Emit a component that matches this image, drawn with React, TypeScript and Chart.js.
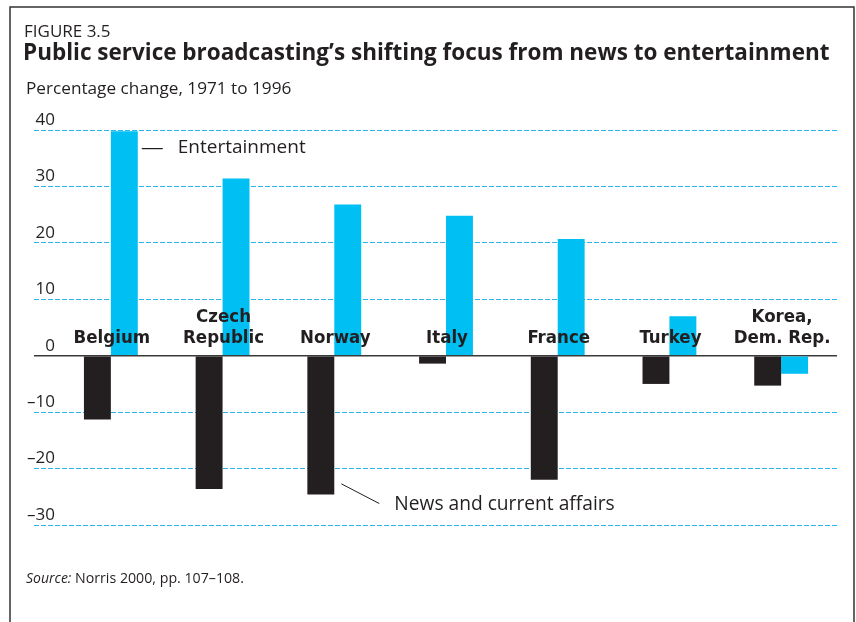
import { useEffect, useRef } from 'react';
import { Chart, registerables } from 'chart.js';

Chart.register(...registerables);

const countries: string[][] = [
  ['Belgium'],
  ['Czech', 'Republic'],
  ['Norway'],
  ['Italy'],
  ['France'],
  ['Turkey'],
  ['Korea,', 'Dem. Rep.'],
];
const newsValues = [-11.3, -23.6, -24.6, -1.4, -22.0, -5.0, -5.3];
const entertainmentValues = [39.8, 31.4, 26.8, 24.8, 20.7, 7.0, -3.2];
const yTickValues = [-30, -20, -10, 0, 10, 20, 30, 40];

const figureLabel = 'FIGURE 3.5';
const titleText = 'Public service broadcasting\u2019s shifting focus from news to entertainment';
const subtitleText = 'Percentage change, 1971 to 1996';
const sourceLabel = 'Source:';
const sourceText = ' Norris 2000, pp. 107\u2013108.';
const entLabel = 'Entertainment';
const newsLabel = 'News and current affairs';

const TEXT = '#231f20';
const BLACK_BAR = '#231f20';
const BLUE_BAR = '#00bff3';
const GRID_BLUE = '#29b6ee';
const ZERO_LINE = '#3a3a3a';
const SANS = '"Open Sans", "Noto Sans", sans-serif';
const COND = '"Liberation Sans Narrow", "DejaVu Sans Condensed", "Open Sans", sans-serif';

const isZero = (c: any) => !!(c.tick && c.tick.value === 0);

const decorPlugin = {
  id: 'decor',
  afterDatasetsDraw(chart: any) {
    const ctx = chart.ctx as CanvasRenderingContext2D;
    const xs = chart.scales.x;
    const ys = chart.scales.y;
    const zeroY = ys.getPixelForValue(0);
    ctx.save();
    ctx.fillStyle = TEXT;
    ctx.font = `bold 18.5px ${COND}`;
    ctx.textAlign = 'center';
    ctx.textBaseline = 'alphabetic';
    countries.forEach((lines, i) => {
      const x = xs.getPixelForValue(i) + 1;
      const n = lines.length;
      lines.forEach((ln, j) => {
        const y = zeroY - 13 - (n - 1 - j) * 21;
        ctx.fillText(ln, x, y);
      });
    });

    // annotations
    const entBar = chart.getDatasetMeta(1).data[0];
    const newsBar = chart.getDatasetMeta(0).data[2];
    ctx.strokeStyle = TEXT;
    ctx.lineWidth = 1.2;
    const ey = ys.getPixelForValue(36.7);
    const ex = entBar.x + entBar.width / 2 + 4;
    ctx.beginPath();
    ctx.moveTo(ex, ey);
    ctx.lineTo(ex + 21, ey);
    ctx.stroke();
    ctx.font = `19px ${SANS}`;
    ctx.textAlign = 'left';
    ctx.textBaseline = 'middle';
    ctx.fillText(entLabel, ex + 36, ey - 1);

    const nx = newsBar.x + newsBar.width / 2 + 7;
    const ny1 = ys.getPixelForValue(-22.7);
    const ny2 = ys.getPixelForValue(-26.2);
    ctx.lineWidth = 1;
    ctx.beginPath();
    ctx.moveTo(nx, ny1);
    ctx.lineTo(nx + 38, ny2);
    ctx.stroke();
    ctx.font = `19.2px ${SANS}`;
    ctx.fillText(newsLabel, nx + 53, ys.getPixelForValue(-26.4));
    ctx.restore();
  },
  afterDraw(chart: any) {
    const ctx = chart.ctx as CanvasRenderingContext2D;
    ctx.save();
    // frame
    ctx.strokeStyle = '#333333';
    ctx.lineWidth = 1.5;
    ctx.beginPath();
    ctx.moveTo(10, 622);
    ctx.lineTo(10, 7);
    ctx.lineTo(854, 7);
    ctx.lineTo(854, 622);
    ctx.stroke();

    ctx.fillStyle = TEXT;
    ctx.textAlign = 'left';
    ctx.textBaseline = 'alphabetic';
    ctx.font = `17px ${SANS}`;
    ctx.fillText(figureLabel, 24, 37);
    ctx.font = `bold 22.5px ${SANS}`;
    ctx.fillText(titleText, 23, 60);
    ctx.font = `17.2px ${SANS}`;
    ctx.fillText(subtitleText, 26, 94);

    ctx.font = `italic 14px ${SANS}`;
    ctx.fillText(sourceLabel, 26, 583);
    const w = ctx.measureText(sourceLabel).width;
    ctx.font = `14.2px ${SANS}`;
    ctx.fillText(sourceText, 26 + w, 583);
    ctx.restore();
  },
};

export default function App() {
  const ref = useRef<HTMLCanvasElement | null>(null);
  useEffect(() => {
    if (!ref.current) return;
    const chart = new Chart(ref.current, {
      type: 'bar',
      data: {
        labels: countries,
        datasets: [
          {
            label: 'News and current affairs',
            data: newsValues,
            backgroundColor: BLACK_BAR,
            borderWidth: 0,
            categoryPercentage: 0.482,
            barPercentage: 1,
          },
          {
            label: 'Entertainment',
            data: entertainmentValues,
            backgroundColor: BLUE_BAR,
            borderWidth: 0,
            categoryPercentage: 0.482,
            barPercentage: 1,
          },
        ],
      },
      options: {
        responsive: false,
        animation: false,
        events: [],
        layout: { padding: { left: 0, right: 19, top: 130, bottom: 97 } },
        plugins: {
          legend: { display: false },
          tooltip: { enabled: false },
          title: { display: false },
        },
        scales: {
          x: {
            type: 'category',
            display: false,
            grid: { display: false },
          },
          y: {
            type: 'linear',
            min: -30,
            max: 40,
            afterBuildTicks: (s: any) => {
              s.ticks = yTickValues.map((v) => ({ value: v }));
            },
            afterFit: (s: any) => {
              s.width = 55;
            },
            border: {
              display: false,
              dash: (c: any) => (isZero(c) ? [] : [5, 2]),
            },
            grid: {
              drawTicks: true,
              tickLength: 21,
              color: (c: any) => (isZero(c) ? ZERO_LINE : GRID_BLUE),
              tickColor: (c: any) => (isZero(c) ? ZERO_LINE : GRID_BLUE),
              lineWidth: (c: any) => (isZero(c) ? 1.5 : 1),
              tickWidth: (c: any) => (isZero(c) ? 1.5 : 1),
              tickBorderDash: (c: any) => (isZero(c) ? [] : [5, 2]),
            },
            ticks: {
              padding: -21,
              labelOffset: -10,
              color: TEXT,
              font: { family: SANS, size: 17 },
              callback: (v: any) => (Number(v) < 0 ? '\u2013' + Math.abs(Number(v)) : String(v)),
            },
          },
        },
      },
      plugins: [decorPlugin],
    } as any);
    return () => chart.destroy();
  }, []);
  return (
    <div style={{ position: 'absolute', left: 0, top: 0, width: 856, height: 622, background: '#fff' }}>
      <canvas ref={ref} width={856} height={622} style={{ width: 856, height: 622, display: 'block' }} />
    </div>
  );
}
